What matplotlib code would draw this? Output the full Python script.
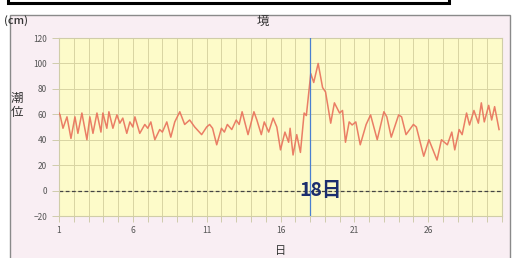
import matplotlib.pyplot as plt
from matplotlib.patches import Rectangle
import numpy as np

plt.rcParams['font.family'] = ['Noto Sans CJK JP', 'DejaVu Sans']

# tide level (cm) at the highs and lows
days = [1.0, 1.07, 1.27, 1.54, 1.81, 2.08, 2.28, 2.55, 2.89, 3.09, 3.30, 3.57,
        3.84, 3.97, 4.24, 4.38, 4.65, 4.92, 5.12, 5.32, 5.59, 5.80, 6.0, 6.14,
        6.47, 6.81, 7.01, 7.22, 7.49, 7.82, 8.0, 8.30, 8.57, 8.84, 9.18, 9.51,
        9.85, 10.19, 10.66, 11.0, 11.2, 11.4, 11.68, 12.0, 12.2, 12.4, 12.7,
        13.0, 13.2, 13.4, 13.8, 14.2, 14.4, 14.7, 14.9, 15.2, 15.5, 15.75,
        16.0, 16.3, 16.55, 16.65, 16.85, 17.1, 17.35, 17.6, 17.75, 18.05,
        18.25, 18.55, 18.85, 19.05, 19.4, 19.65, 20.0, 20.2, 20.4, 20.65,
        20.85, 21.1, 21.4, 21.8, 22.1, 22.55, 23.0, 23.2, 23.5, 24.0, 24.2,
        24.5, 25.0, 25.2, 25.7, 26.05, 26.6, 26.9, 27.3, 27.6, 27.8, 28.1,
        28.3, 28.6, 28.8, 29.1, 29.4, 29.6, 29.8, 30.1, 30.3, 30.5, 30.8]
level = [61, 59.5, 49, 58, 41, 58, 45, 61, 40, 58, 45, 61,
         46, 61, 49, 62, 49, 59.5, 53, 57, 45, 54, 50, 58,
         45, 52, 49, 54, 40, 48, 46, 54, 42, 54, 62, 52,
         55.5, 50, 44, 50, 52, 49, 36, 49, 46, 52, 48,
         55.5, 52, 62, 44, 62, 55.5, 44, 54, 46, 57, 50,
         32, 46, 38, 49, 28, 44, 30, 61, 59, 92,
         85, 100, 81, 77.6, 53, 69, 61, 63, 38, 54,
         51.6, 54, 36, 52, 59.5, 40, 62, 58, 42, 59.5, 58,
         44, 52, 50, 27, 40, 24, 40, 36, 46, 32, 48,
         44, 61, 51.6, 63, 53, 69, 54, 67, 55.5, 66, 48]

xticks = [1, 6, 11, 16, 21, 26]
yticks = [-20, 0, 20, 40, 60, 80, 100, 120]
mark_day = 18

fig = plt.figure(figsize=(5.15, 2.58), dpi=100)
fig.patch.set_facecolor('white')

# pink panel behind the chart
fig.patches.append(Rectangle((10 / 515, -0.01), 500 / 515, 1 - 15 / 258 + 0.01,
                             transform=fig.transFigure, facecolor='#f9eef3',
                             edgecolor='#8a8a8a', linewidth=1.0, zorder=-5))
# black box cut off at the top
fig.patches.append(Rectangle((8 / 515, 1 - 3 / 258), 441 / 515, 0.05,
                             transform=fig.transFigure, facecolor='white',
                             edgecolor='black', linewidth=2.2, zorder=-4))

ax = fig.add_axes([59 / 515, 1 - 216 / 258, 443 / 515, 178 / 258])
ax.set_facecolor('#fdfbc9')

ax.plot(days, level, color='#e8705a', linewidth=1.1, alpha=0.9, zorder=3)
ax.axhline(0, color='#444444', linestyle=(0, (3, 2)), linewidth=0.9, zorder=2)
ax.axvline(mark_day, color='#4a7fd0', linewidth=0.9, zorder=4)

ax.set_xlim(1, 31)
ax.set_ylim(-20, 120)
ax.set_xticks(xticks)
ax.set_xticks(np.arange(1, 32), minor=True)
ax.set_yticks(yticks)
ax.grid(True, which='both', color='#d8d4a2', linewidth=0.7, zorder=1)
ax.tick_params(axis='both', which='both', labelsize=6, colors='#c9c6a0',
               labelcolor='#555555', length=4, width=0.6)
ax.tick_params(axis='y', length=5)
for s in ax.spines.values():
    s.set_color('#d0cda8')
    s.set_linewidth(0.8)

ax.text(18.7, 0, '18日', color='#1b2d6e', fontsize=14, ha='center',
        va='center', zorder=5, fontweight='bold')

fig.text(263 / 515, 1 - 21 / 258, '境', fontsize=9, ha='center', va='center',
         color='#333333')
fig.text(4 / 515, 1 - 21 / 258, '(cm)', fontsize=8, ha='left', va='center',
         color='#333333', fontweight='medium')
fig.text(17 / 515, 1 - 105 / 258, '潮\n位', fontsize=9, ha='center',
         va='center', color='#333333', linespacing=1.1)
fig.text(281 / 515, 1 - 251 / 258, '日', fontsize=8, ha='center',
         va='center', color='#333333')

fig.savefig('out.png', dpi=100)
